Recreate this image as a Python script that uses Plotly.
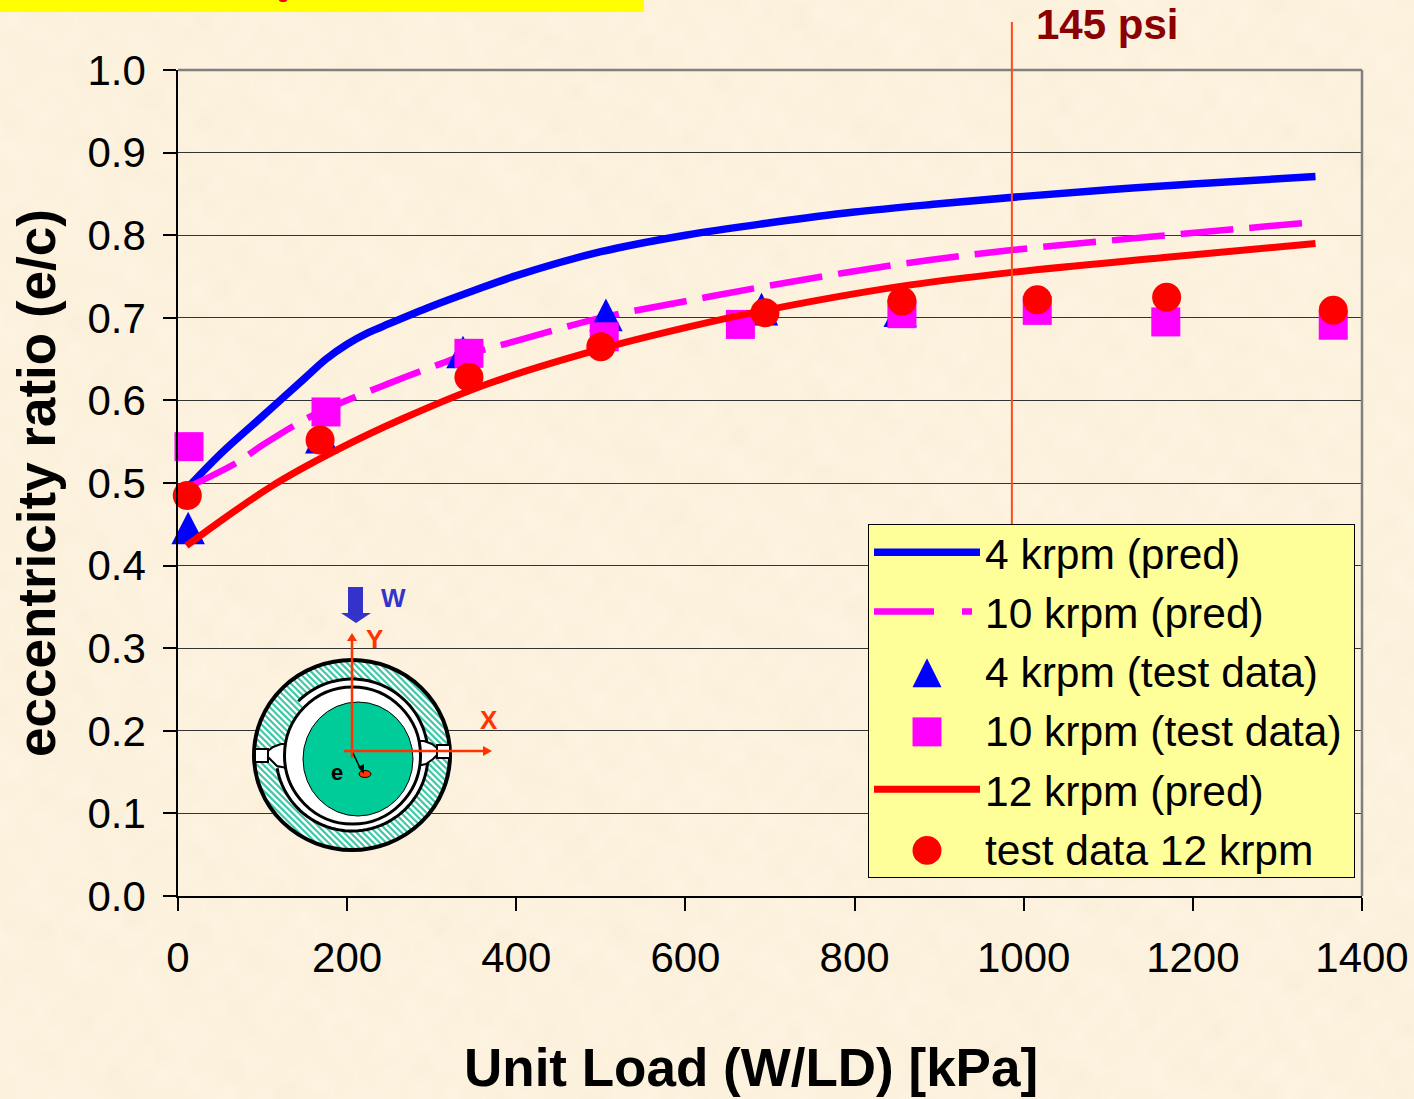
import base64
import math
import struct
import zlib

import numpy as np
import plotly.graph_objects as go

W, H = 1414, 1099
L, R, T, B = 178, 1362, 70, 896

# ---- data ----
x_4k_pred = [12, 50, 100, 150, 175, 200, 225, 250, 300, 350, 400, 500, 600, 700, 800, 900, 1000, 1100, 1200, 1345]
y_4k_pred = [0.495, 0.535, 0.581, 0.627, 0.650, 0.668, 0.682, 0.693, 0.714, 0.733, 0.751, 0.780, 0.800, 0.815, 0.828, 0.838, 0.847, 0.855, 0.862, 0.871]
x_10k_pred = [12, 70, 100, 154, 195, 248, 307, 340, 400, 500, 600, 694, 854, 986, 1150, 1345]
y_10k_pred = [0.495, 0.525, 0.546, 0.579, 0.598, 0.620, 0.643, 0.655, 0.672, 0.700, 0.720, 0.738, 0.765, 0.782, 0.798, 0.816]
x_12k_pred = [10, 109, 188, 266, 369, 499, 600, 694, 854, 986, 1166, 1345]
y_12k_pred = [0.424, 0.495, 0.540, 0.578, 0.621, 0.662, 0.688, 0.709, 0.738, 0.755, 0.773, 0.790]
x_4k_test = [12, 170, 337, 506, 690, 854]
y_4k_test = [0.445, 0.555, 0.658, 0.703, 0.710, 0.708]
x_10k_test = [13, 175, 344, 504, 665, 856, 1016, 1168, 1366]
y_10k_test = [0.544, 0.586, 0.657, 0.677, 0.692, 0.705, 0.709, 0.695, 0.691]
x_12k_test = [11, 168, 344, 500, 694, 856, 1016, 1169, 1366]
y_12k_test = [0.485, 0.552, 0.628, 0.665, 0.706, 0.720, 0.722, 0.725, 0.709]
x_ticks = [0, 200, 400, 600, 800, 1000, 1200, 1400]
y_ticks = [0.0, 0.1, 0.2, 0.3, 0.4, 0.5, 0.6, 0.7, 0.8, 0.9, 1.0]
x_limit_psi = 986

FONT = "Liberation Sans"
BG = "#FCF2DE"
BLUE, MAG, RED = "#0000FF", "#FF00FF", "#FF0000"
AX_RED = "#FF3300"


def paper_texture():
    """Faint mottled parchment backdrop, from overlapping sine waves."""
    h, w = 275, 354
    yy, xx = np.mgrid[0:h, 0:w].astype(float)
    m = np.zeros((h, w))
    for fx, fy, ph in [(0.31, 0.17, 0.4), (0.13, -0.37, 1.7), (-0.47, 0.29, 2.9), (0.71, 0.53, 4.1),
                       (0.23, -0.61, 5.3), (-0.83, 0.41, 0.9), (0.59, 0.79, 3.3), (0.11, -0.07, 2.2)]:
        m += np.sin(fx * xx + fy * yy + ph + 1.3 * np.sin(0.05 * xx - 0.04 * yy + ph))
    m = m / np.abs(m).max()
    img = np.stack([252 + 1.5 * m, 242 + 2.5 * m, 222 + 5 * m], axis=-1).clip(0, 255).astype(np.uint8)
    raw = b"".join(b"\x00" + img[r].tobytes() for r in range(h))

    def chunk(tag, data):
        return struct.pack(">I", len(data)) + tag + data + struct.pack(">I", zlib.crc32(tag + data) & 0xFFFFFFFF)

    png = (b"\x89PNG\r\n\x1a\n" + chunk(b"IHDR", struct.pack(">IIBBBBB", w, h, 8, 2, 0, 0, 0))
           + chunk(b"IDAT", zlib.compress(raw, 9)) + chunk(b"IEND", b""))
    return "data:image/png;base64," + base64.b64encode(png).decode()


def px(v):
    return (v - L) / (R - L)


def py(v):
    return (B - v) / (B - T)


def ell(cx, cy, rx, ry, **kw):
    return dict(type="circle", xref="paper", yref="paper", x0=px(cx - rx), x1=px(cx + rx),
                y0=py(cy + ry), y1=py(cy - ry), **kw)


def rect(x0, y0, x1, y1, **kw):
    return dict(type="rect", xref="paper", yref="paper", x0=px(x0), x1=px(x1), y0=py(y1), y1=py(y0), **kw)


def line(x0, y0, x1, y1, color, width):
    return dict(type="line", xref="paper", yref="paper", x0=px(x0), x1=px(x1), y0=py(y0), y1=py(y1),
                line=dict(color=color, width=width))


def poly(points, fill, lw=0, lc=None):
    d = "M" + " L".join(f"{px(a):.5f},{py(b):.5f}" for a, b in points) + " Z"
    return dict(type="path", xref="paper", yref="paper", path=d, fillcolor=fill,
                line=dict(width=lw, color=lc or fill))


def arc(cx, cy, r, a0, a1, color, width):
    n = 90
    pts = []
    for i in range(n + 1):
        t = math.radians(a0 + (a1 - a0) * i / n)
        pts.append(f"{px(cx + r * math.cos(t)):.5f},{py(cy + r * math.sin(t)):.5f}")
    return dict(type="path", xref="paper", yref="paper", path="M" + " L".join(pts),
                line=dict(color=color, width=width))


def hatch(cx, cy, rxo, ryo, rxi, ryi, step=6.4):
    segs = []
    c = -2 * rxo
    n = 300
    while c < 2 * rxo:
        start = None
        prev = (0, 0)
        for i in range(n + 1):
            xx = -rxo + 2 * rxo * i / n
            yy = xx + c
            ok = (xx / rxo) ** 2 + (yy / ryo) ** 2 <= 1 and (xx / rxi) ** 2 + (yy / ryi) ** 2 >= 1
            if ok and start is None:
                start = (xx, yy)
            if not ok and start is not None:
                segs.append((start, prev))
                start = None
            prev = (xx, yy)
        if start is not None:
            segs.append((start, prev))
        c += step
    d = ""
    for (a, b), (e, f) in segs:
        d += f"M{px(cx + a):.5f},{py(cy + b):.5f} L{px(cx + e):.5f},{py(cy + f):.5f} "
    return dict(type="path", xref="paper", yref="paper", path=d, line=dict(color="#3FC9A8", width=2.2))


fig = go.Figure()


def add(name, xs, ys, **kw):
    fig.add_trace(go.Scatter(x=xs, y=ys, name=name, legendgroup=name, cliponaxis=False, **kw))


add("4 krpm (pred)", x_4k_pred, y_4k_pred, mode="lines",
    line=dict(color=BLUE, width=7.5, shape="spline", smoothing=1.0))
add("10 krpm (pred)", x_10k_pred, y_10k_pred, mode="lines",
    line=dict(color=MAG, width=6.5, dash="53px,16px", shape="spline", smoothing=1.0))
add("4 krpm (test data)", x_4k_test, y_4k_test, mode="markers",
    marker=dict(symbol="triangle-up", size=29, color=BLUE, line=dict(width=0)))
add("10 krpm (test data)", x_10k_test, y_10k_test, mode="markers",
    marker=dict(symbol="square", size=29, color=MAG, line=dict(width=0)))
add("12 krpm (pred)", x_12k_pred, y_12k_pred, mode="lines",
    line=dict(color=RED, width=7, shape="spline", smoothing=1.0))
add("test data 12 krpm", x_12k_test, y_12k_test, mode="markers",
    marker=dict(symbol="circle", size=29, color=RED, line=dict(width=0)))

CX, CY = 352, 755
shapes = [
    rect(0, -5, 644, 12, fillcolor="#FFFF00", line=dict(width=0)),
    ell(283, 0, 4, 2, fillcolor="#FF0000", line=dict(width=0)),
    line(L, T, R, T, "#808080", 2.5),
    line(R, T, R, B, "#808080", 2.5),
    dict(type="line", xref="x", yref="paper", x0=x_limit_psi, x1=x_limit_psi, y0=py(524), y1=py(22),
         line=dict(color="#FF4A1C", width=2)),
    # inset: bearing cross-section
    ell(CX, CY, 98, 95, fillcolor="#FFFFFF", line=dict(width=0)),
    hatch(CX, CY, 98, 95, 68, 68),
    ell(CX, CY, 98, 95, fillcolor="rgba(0,0,0,0)", line=dict(color="#000000", width=4)),
    arc(CX, CY, 72, -135, 170, "#FFFFFF", 8),
    arc(CX, CY, 76, -135, 170, "#000000", 3),
    rect(255, 749, 268, 762, fillcolor="#FFFFFF", line=dict(color="#000000", width=2)),
    poly([(268, 751), (273, 747), (281, 744), (287, 744), (287, 768), (277, 766), (272, 761), (268, 757)],
         "#FFFFFF", 2, "#000000"),
    rect(437, 745, 450, 758, fillcolor="#FFFFFF", line=dict(color="#000000", width=2)),
    poly([(437, 748), (432, 744), (424, 741), (417, 741), (417, 766), (426, 764), (433, 759), (437, 755)],
         "#FFFFFF", 2, "#000000"),
    ell(CX + 0.5, CY + 0.5, 68, 68.5, fillcolor="#FFFFFF", line=dict(color="#000000", width=3)),
    ell(358, 759, 55, 57, fillcolor="#00CC99", line=dict(color="#000000", width=1)),
    ell(365, 774, 6, 3.5, fillcolor="#FF3300", line=dict(color="#000000", width=1)),
    line(352, 751, 361, 770, "#000000", 1.5),
    poly([(358, 767), (364, 764), (364, 774)], "#000000"),
    line(352, 758, 352, 640, AX_RED, 2.5),
    poly([(347, 641), (357, 641), (352, 633)], AX_RED),
    line(344, 751, 484, 751, AX_RED, 2.5),
    poly([(483, 746), (483, 756), (492, 751)], AX_RED),
    poly([(348, 587), (363, 587), (363, 613), (371, 613), (356, 623), (341, 613), (348, 613)], "#3333CC"),
]


def label(text, x, y, size, color, angle=0):
    return dict(text=f"<b>{text}</b>", xref="paper", yref="paper", x=px(x), y=py(y), showarrow=False,
                xanchor="center", yanchor="middle", textangle=angle,
                font=dict(family=FONT, size=size, color=color))


annotations = [
    label("145 psi", 1107, 25, 42, "#8B0000"),
    label("W", 393, 598, 26, "#3333CC"),
    label("Y", 374, 639, 26, "#FF3300"),
    label("X", 489, 720, 26, "#FF3300"),
    label("e", 337, 772, 22, "#000000"),
    label("Unit Load (W/LD) [kPa]", 751, 1067, 53, "#000000"),
    label("eccentricity ratio (e/c)", 36, 483, 53, "#000000", -90),
]

axis_common = dict(showline=True, linecolor="#000000", linewidth=1.5, ticks="outside", ticklen=13, tickwidth=1.5,
                   tickcolor="#000000", tickfont=dict(family=FONT, size=42, color="#000000"), zeroline=False,
                   automargin=False)

fig.update_layout(
    width=W, height=H, autosize=False,
    margin=dict(l=L, r=W - R, t=T, b=H - B, pad=0),
    paper_bgcolor=BG, plot_bgcolor="rgba(0,0,0,0)",
    images=[dict(source=paper_texture(), xref="paper", yref="paper", x=px(0), y=py(0), sizex=W / (R - L),
                 sizey=H / (B - T), xanchor="left", yanchor="top", sizing="stretch", layer="below")],
    showlegend=True,
    legend=dict(x=px(868), y=py(524), xanchor="left", yanchor="top", bgcolor="#FFFF99", bordercolor="#000000",
                borderwidth=1, font=dict(family=FONT, size=42.5, color="#000000"), itemwidth=106,
                tracegroupgap=1, traceorder="grouped", itemsizing="trace"),
    xaxis=dict(range=[0, 1400], tickvals=x_ticks, showgrid=False, ticklabelstandoff=11, **axis_common),
    yaxis=dict(range=[0, 1], tickvals=y_ticks, tickformat=".1f", showgrid=True, gridcolor="#333333", gridwidth=1,
               ticklabelstandoff=9, **axis_common),
    shapes=shapes,
    annotations=annotations,
)

POST = """
document.body.style.margin='0';document.body.style.overflow='hidden';
var tri=document.querySelectorAll('.scatterlayer .trace')[2];
if(tri){tri.querySelectorAll('.points path').forEach(function(p){
  p.setAttribute('transform',p.getAttribute('transform')+' translate(0,5) scale(1,1.5)');});}
document.querySelectorAll('.legend path.scatterpts').forEach(function(p,i){
  var t=p.getAttribute('transform')||'';
  if(i===0){p.setAttribute('transform',t+' translate(0,7) scale(1.57,2.42)');}
  else{p.setAttribute('transform',t+' translate(0,2) scale(1.81)');}
});
var ll=document.querySelectorAll('.legend .legendlines path');
if(ll[1]){ll[1].style.strokeDasharray='60px,28px,10px,100px';}
document.querySelectorAll('.legend rect.bg').forEach(function(r){r.setAttribute('height','353');r.setAttribute('width','486');});
document.querySelectorAll('.legend .scrollbox').forEach(function(g){
  g.removeAttribute('clip-path');
  var t=g.getAttribute('transform')||'';
  g.setAttribute('transform',t+' translate(0,-7)');
});
"""
fig.write_html("out.html", post_script=POST, config=dict(displayModeBar=False))
